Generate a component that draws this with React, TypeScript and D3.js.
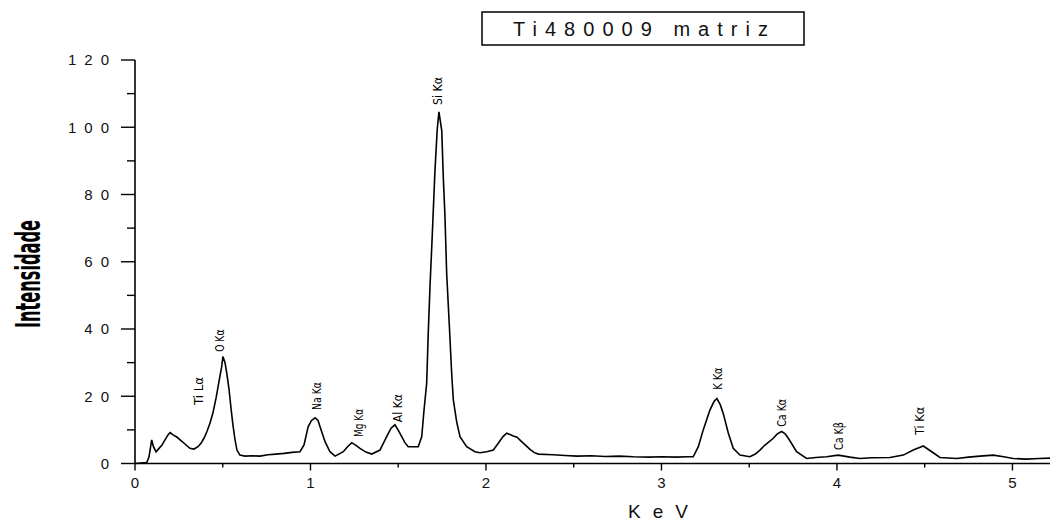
import React from "react";
import * as d3 from "d3";

const title = "Ti480009 matriz";
const xLabel = "KeV";
const yLabel = "Intensidade";

const energy = [
  0, 0.067, 0.08, 0.095, 0.105, 0.12, 0.137, 0.154, 0.171, 0.188, 0.2, 0.217, 0.24, 0.262, 0.285,
  0.313, 0.336, 0.359, 0.376, 0.393, 0.41, 0.427, 0.444, 0.462, 0.479, 0.493, 0.501, 0.513, 0.524,
  0.536, 0.547, 0.558, 0.57, 0.581, 0.598, 0.627, 0.667, 0.712, 0.758, 0.803, 0.849, 0.895, 0.94,
  0.963, 0.987, 1.006, 1.026, 1.043, 1.054, 1.083, 1.111, 1.14, 1.187, 1.211, 1.235, 1.259, 1.282,
  1.316, 1.349, 1.396, 1.434, 1.459, 1.481, 1.499, 1.52, 1.538, 1.557, 1.614, 1.634, 1.647, 1.662,
  1.671, 1.681, 1.694, 1.709, 1.722, 1.732, 1.748, 1.757, 1.766, 1.776, 1.791, 1.805, 1.814, 1.833,
  1.852, 1.89, 1.937, 1.966, 2.004, 2.042, 2.07, 2.097, 2.118, 2.137, 2.156, 2.177, 2.203, 2.228,
  2.251, 2.273, 2.298, 2.383, 2.45, 2.52, 2.6, 2.68, 2.76, 2.84, 2.93, 3.0, 3.08, 3.15, 3.181, 3.21,
  3.238, 3.276, 3.3, 3.316, 3.335, 3.352, 3.381, 3.409, 3.447, 3.504, 3.535, 3.561, 3.59, 3.637,
  3.66, 3.685, 3.705, 3.723, 3.77, 3.827, 3.88, 3.941, 4.007, 4.074, 4.131, 4.2, 4.302, 4.378,
  4.435, 4.492, 4.54, 4.587, 4.682, 4.75, 4.815, 4.891, 4.95, 5.005, 5.081, 5.15, 5.214,
];

const intensity = [
  0, 0.3, 2, 7, 5, 3.5, 4.5, 5.5, 7, 8.5, 9.2, 8.5, 7.8, 6.8, 5.8,
  4.5, 4.3, 5, 6, 7.5, 9.5, 12, 15, 19.5, 24.5, 28.5, 31.8, 30, 26.5,
  22, 16.5, 11.5, 7, 4, 2.5, 2.2, 2.3, 2.2, 2.6, 2.8, 3.0, 3.3, 3.5,
  5.5, 11, 12.8, 13.6, 12.8, 11, 6.5, 3.5, 2.2, 3.5, 5, 6.2, 5.4, 4.5,
  3.4, 2.8, 4, 8, 10.5, 11.5, 10, 8, 6.2, 5, 5, 8, 15.9, 23.8,
  38.7, 52.6, 68, 86.8, 99.2, 104.6, 99, 84.8, 73.9, 56.6, 41.2, 26.3, 18.9, 12.4,
  8, 5, 3.5, 3.2, 3.5, 4, 6, 8, 9, 8.6, 8.2, 7.8, 6.5, 5.3,
  4.2, 3.3, 2.8, 2.6, 2.4, 2.2, 2.3, 2.1, 2.2, 2.0, 1.9, 2.0, 1.9, 2.0, 2.0, 5,
  10, 15.9, 18.5, 19.3, 17.5, 14.9, 9, 4.5, 2.5, 2.0, 2.8, 4, 5.5, 7.5,
  8.8, 9.5, 8.8, 7.5, 3.5, 1.5, 1.8, 2.0, 2.5, 1.9, 1.5, 1.7, 1.8, 2.5,
  4, 5.2, 3.5, 1.8, 1.5, 1.9, 2.2, 2.5, 2.0, 1.5, 1.3, 1.5, 1.6,
];

const peakNames = ["Ti L\u03b1", "O K\u03b1", "Na K\u03b1", "Mg K\u03b1", "Al K\u03b1", "Si K\u03b1", "K K\u03b1", "Ca K\u03b1", "Ca K\u03b2", "Ti K\u03b1"];
const peakEnergy = [0.359, 0.484, 1.037, 1.271, 1.493, 1.726, 3.322, 3.685, 4.006, 4.473];
const peakLabelAt = [17.4, 33.2, 15.9, 7.9, 12.3, 106.6, 21.9, 10.9, 4.0, 8.5];

const xTicks = [0, 1, 2, 3, 4, 5];
const xMinorTicks = [0.5, 1.5, 2.5, 3.5, 4.5];
const yTicks = [0, 20, 40, 60, 80, 100, 120];
const yMinorTicks = [10, 30, 50, 70, 90, 110];

export default function App() {
  const W = 1050;
  const H = 522;
  const x = d3.scaleLinear().domain([0, 5.214]).range([135, 1050]);
  const y = d3.scaleLinear().domain([0, 120]).range([463.5, 60]);
  const pts = energy.map((e, i) => [e, intensity[i]] as [number, number]);
  const line = d3
    .line<[number, number]>()
    .x((d) => x(d[0]))
    .y((d) => y(d[1]))
    .curve(d3.curveLinear);
  const ink = "#000";
  const tickFont = "'Liberation Sans', Arial, sans-serif";
  const narrow = "'Liberation Sans Narrow', 'Arial Narrow', 'DejaVu Sans Condensed', sans-serif";

  return (
    <svg
      width={W}
      height={H}
      viewBox={`0 0 ${W} ${H}`}
      style={{ position: "absolute", left: 0, top: 0, background: "#fff" }}
    >
      <rect x={0} y={0} width={W} height={H} fill="#fff" />
      {/* Title box */}
      <rect x={482} y={12} width={322} height={33} fill="#fff" stroke={ink} strokeWidth={1.5} />
      <text
        x={513}
        y={36}
        fontFamily={tickFont}
        fontSize={20}
        fill="#111"
        textLength={255}
        lengthAdjust="spacing"
      >
        {title}
      </text>

      {/* Y axis */}
      <line x1={x(0)} x2={x(0)} y1={y(120)} y2={y(0)} stroke={ink} strokeWidth={1.6} />
      {yTicks.map((t) => (
        <g key={"yt" + t}>
          <line x1={x(0) - 14} x2={x(0)} y1={y(t)} y2={y(t)} stroke={ink} strokeWidth={1.4} />
          <text
            x={117}
            y={y(t)}
            dy="0.36em"
            textAnchor="end"
            fontFamily={tickFont}
            fontSize={15}
            letterSpacing={8}
            fill="#111"
          >
            {t}
          </text>
        </g>
      ))}
      {yMinorTicks.map((t) => (
        <line key={"ym" + t} x1={x(0) - 8} x2={x(0)} y1={y(t)} y2={y(t)} stroke={ink} strokeWidth={1.4} />
      ))}

      {/* X axis */}
      <line x1={x(0)} x2={W} y1={y(0)} y2={y(0)} stroke={ink} strokeWidth={1.6} />
      {xTicks.map((t) => (
        <g key={"xt" + t}>
          <line x1={x(t)} x2={x(t)} y1={y(0)} y2={y(0) + 7} stroke={ink} strokeWidth={1.4} />
          <text
            x={x(t)}
            y={488}
            textAnchor="middle"
            fontFamily={tickFont}
            fontSize={15}
            fill="#111"
          >
            {t}
          </text>
        </g>
      ))}
      {xMinorTicks.map((t) => (
        <line key={"xm" + t} x1={x(t)} x2={x(t)} y1={y(0)} y2={y(0) + 4} stroke={ink} strokeWidth={1.4} />
      ))}

      {/* Axis titles */}
      <text
        x={628}
        y={518}
        fontFamily={tickFont}
        fontSize={19}
        fill="#111"
        textLength={60}
        lengthAdjust="spacing"
      >
        {xLabel}
      </text>
      <text
        transform={`translate(40,274) rotate(-90)`}
        textAnchor="middle"
        fontFamily={narrow}
        fontWeight="bold"
        fontSize={34}
        fill={ink}
        textLength={108}
        lengthAdjust="spacingAndGlyphs"
      >
        {yLabel}
      </text>

      {/* Spectrum */}
      <path d={line(pts) || ""} fill="none" stroke={ink} strokeWidth={1.6} strokeLinejoin="miter" />

      {/* Peak labels */}
      {peakNames.map((n, i) => (
        <text
          key={n}
          transform={`translate(${x(peakEnergy[i])},${y(peakLabelAt[i])}) rotate(-90)`}
          dominantBaseline="central"
          textAnchor="start"
          fontFamily={narrow}
          fontSize={13}
          fill={ink}
          textLength={n.length * 5.6}
          lengthAdjust="spacingAndGlyphs"
        >
          {n}
        </text>
      ))}
    </svg>
  );
}
